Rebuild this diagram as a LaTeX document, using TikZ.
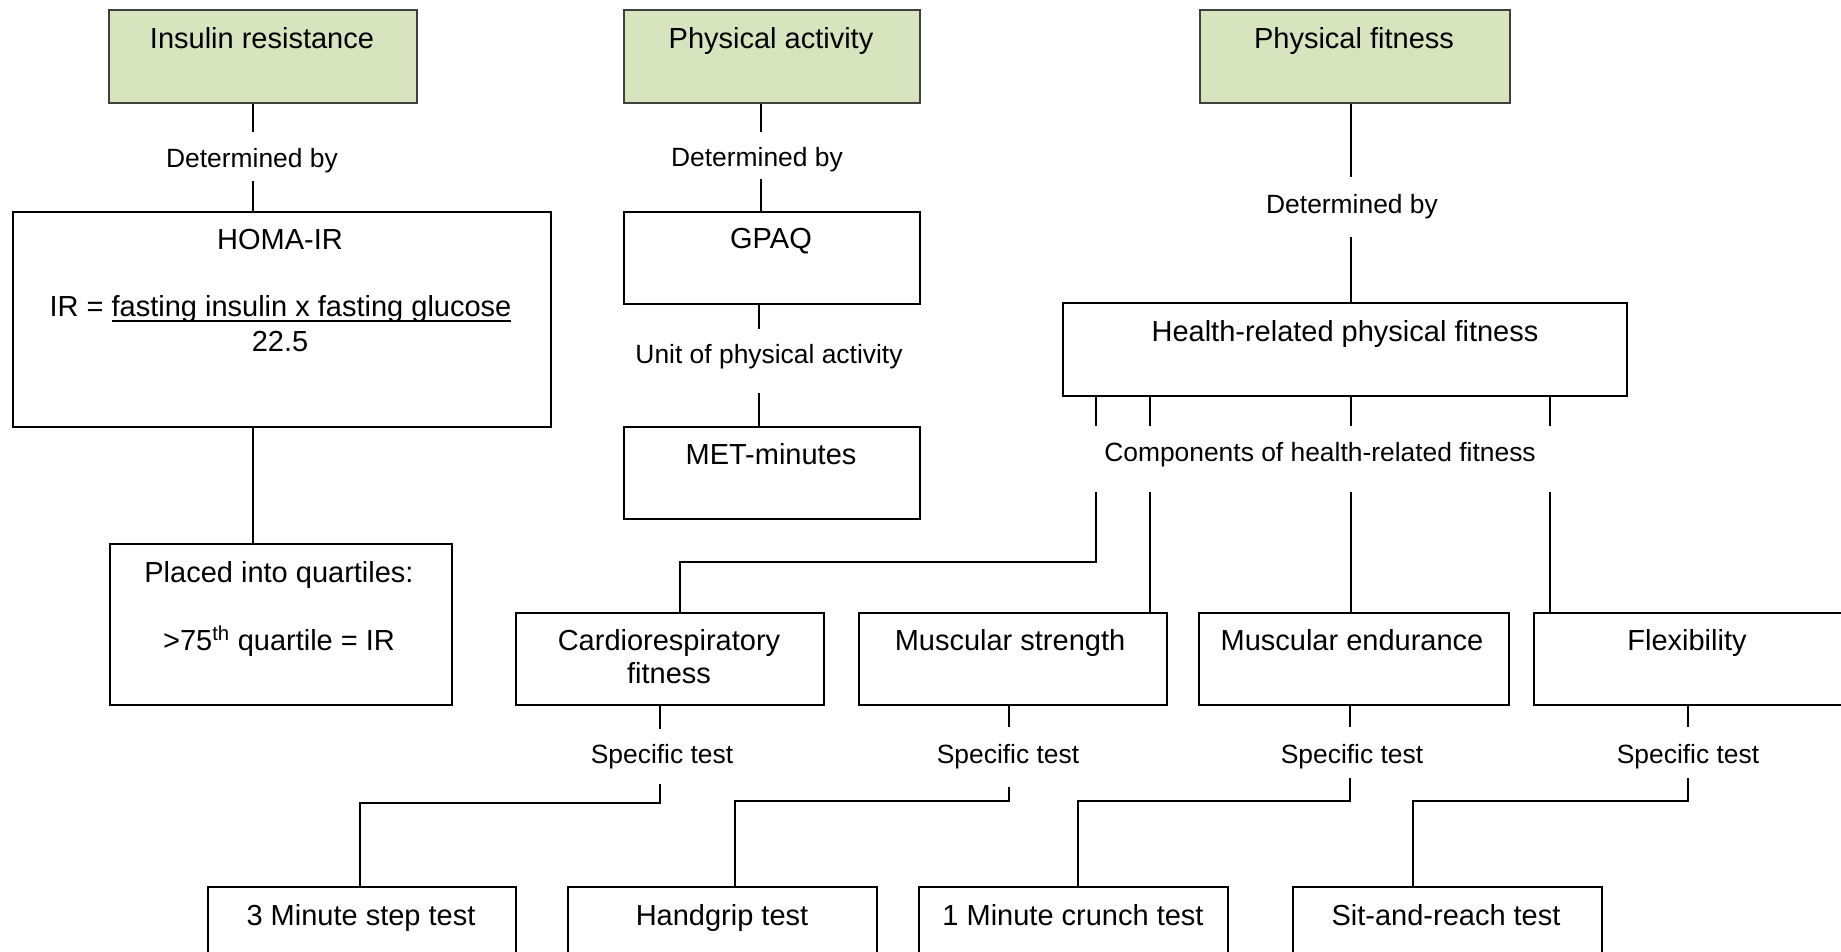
\documentclass[tikz,border=0pt]{standalone}
\usepackage{fontspec}
\setmainfont{Liberation Sans}
\newcommand\myul[1]{\setbox0\hbox{#1}\rlap{\vrule height -4.2pt depth 6.2pt width \wd0}\box0}
\definecolor{boxgreen}{HTML}{D7E4BD}
\tikzset{
  boxst/.style={draw=black, line width=2.1pt, inner sep=0pt, anchor=north west},
  greenst/.style={draw=black!75, fill=boxgreen, line width=1.8pt, inner sep=0pt, anchor=north west},
  connst/.style={draw=black, line width=1.4pt},
  ttlst/.style={font=\fontsize{29}{33}\selectfont, anchor=base, inner sep=0pt},
  lblst/.style={font=\fontsize{26.4}{30}\selectfont, anchor=base, inner xsep=2pt, inner ysep=0pt}
}
\begin{document}
\begin{tikzpicture}[x=1pt,y=-1pt]
\fill[white] (0,0) rectangle (1841,951);
\useasboundingbox (0,0) rectangle (1841,951);

% ---------- boxes ----------
\node[greenst, minimum width=308pt, minimum height=93pt] (ir) at (108,9) {};
\node[greenst, minimum width=296pt, minimum height=93pt] (pa) at (623,9) {};
\node[greenst, minimum width=310pt, minimum height=93pt] (pf) at (1199,9) {};
\node[boxst, minimum width=538pt, minimum height=215pt] (homa) at (12,211) {};
\node[boxst, minimum width=296pt, minimum height=92pt] (gpaq) at (623,211) {};
\node[boxst, minimum width=296pt, minimum height=92pt] (met) at (623,426) {};
\node[boxst, minimum width=564pt, minimum height=93pt] (hr) at (1062,302) {};
\node[boxst, minimum width=342pt, minimum height=161pt] (placed) at (109,543) {};
\node[boxst, minimum width=308pt, minimum height=92pt] (cardio) at (515,612) {};
\node[boxst, minimum width=308pt, minimum height=92pt] (ms) at (858,612) {};
\node[boxst, minimum width=310pt, minimum height=92pt] (me) at (1198,612) {};
\node[boxst, minimum width=308pt, minimum height=92pt] (flex) at (1533,612) {};
\node[boxst, minimum width=308pt, minimum height=92pt] (step) at (207,886) {};
\node[boxst, minimum width=309pt, minimum height=92pt] (grip) at (567,886) {};
\node[boxst, minimum width=309pt, minimum height=92pt] (crunch) at (918,886) {};
\node[boxst, minimum width=309pt, minimum height=92pt] (sit) at (1292,886) {};

% ---------- box texts ----------
\node[ttlst] (irT) at (262,48) {Insulin resistance};
\node[ttlst] (paT) at (771,48) {Physical activity};
\node[ttlst] (pfT) at (1354,48) {Physical fitness};
\node[ttlst] (homaT) at (280,249) {HOMA-IR};
\node[ttlst] (homaF) at (280.5,316) {IR = \myul{fasting insulin x fasting glucose}};
\node[ttlst] (homaD) at (280,351) {22.5};
\node[ttlst] (gpaqT) at (771,248) {GPAQ};
\node[ttlst] (metT) at (771,464) {MET-minutes};
\node[ttlst] (hrT) at (1345,341) {Health-related physical fitness};
\node[ttlst] (plT1) at (279,582) {Placed into quartiles:};
\node[ttlst] (plT2) at (279,650) {>75\textsuperscript{th} quartile = IR};
\node[ttlst] (caT1) at (669,650) {Cardiorespiratory};
\node[ttlst] (caT2) at (669,683) {fitness};
\node[ttlst] (msT) at (1010,650) {Muscular strength};
\node[ttlst] (meT) at (1352,650) {Muscular endurance};
\node[ttlst] (flT) at (1687,650) {Flexibility};
\node[ttlst] (stT) at (361,925) {3 Minute step test};
\node[ttlst] (grT) at (722,925) {Handgrip test};
\node[ttlst] (crT) at (1073,925) {1 Minute crunch test};
\node[ttlst] (siT) at (1446,925) {Sit-and-reach test};

% ---------- connector labels ----------
\node[lblst, text height=35pt, text depth=14pt] (d1) at (252,167) {Determined by};
\node[lblst, text height=34pt, text depth=13pt] (d2) at (757,166) {Determined by};
\node[lblst, text height=36pt, text depth=24pt] (d3) at (1352,213) {Determined by};
\node[lblst, text height=34pt, text depth=30pt] (u1) at (769,363) {Unit of physical activity};
\node[lblst, text height=35pt, text depth=31pt] (c1) at (1320,461) {Components of health-related fitness};
\node[lblst, text height=34pt, text depth=21pt] (s1) at (662,763) {Specific test};
\node[lblst, text height=36pt, text depth=24pt] (s2) at (1008,763) {Specific test};
\node[lblst, text height=36pt, text depth=15pt] (s3) at (1352,763) {Specific test};
\node[lblst, text height=36pt, text depth=15pt] (s4) at (1688,763) {Specific test};

% ---------- connector columns ----------
\coordinate (xa) at (253,0);
\coordinate (xb) at (761,0);
\coordinate (xb2) at (759,0);
\coordinate (xc) at (1351,0);
\coordinate (xk1) at (1096,0);
\coordinate (xk2) at (1150,0);
\coordinate (xk3) at (1351,0);
\coordinate (xk4) at (1550,0);
\coordinate (xcf) at (680,0);
\coordinate (xs1) at (660,0);
\coordinate (xs2) at (1009,0);
\coordinate (xs3) at (1350,0);
\coordinate (xs4) at (1688,0);
\coordinate (xt1) at (360,0);
\coordinate (xt2) at (735,0);
\coordinate (xt3) at (1078,0);
\coordinate (xt4) at (1413,0);
\coordinate (yk) at (0,562);
\coordinate (ys1) at (0,803);
\coordinate (ys2) at (0,801);

% ---------- connectors ----------
\draw[connst] (ir.south -| xa) -- (d1.north -| xa);
\draw[connst] (d1.south -| xa) -- (homa.north -| xa);
\draw[connst] (homa.south -| xa) -- (placed.north -| xa);

\draw[connst] (pa.south -| xb) -- (d2.north -| xb);
\draw[connst] (d2.south -| xb) -- (gpaq.north -| xb);
\draw[connst] (gpaq.south -| xb2) -- (u1.north -| xb2);
\draw[connst] (u1.south -| xb2) -- (met.north -| xb2);

\draw[connst] (pf.south -| xc) -- (d3.north -| xc);
\draw[connst] (d3.south -| xc) -- (hr.north -| xc);

\foreach \k in {xk1,xk2,xk3,xk4}
  \draw[connst] (hr.south -| \k) -- (c1.north -| \k);

\draw[connst] (c1.south -| xk1) |- (yk -| xcf) -- (cardio.north -| xcf);
\draw[connst] (c1.south -| xk2) -- (ms.north -| xk2);
\draw[connst] (c1.south -| xk3) -- (me.north -| xk3);
\draw[connst] (c1.south -| xk4) -- (flex.north -| xk4);

\draw[connst] (cardio.south -| xs1) -- (s1.north -| xs1);
\draw[connst] (s1.south -| xs1) |- (ys1 -| xt1) -- (step.north -| xt1);
\draw[connst] (ms.south -| xs2) -- (s2.north -| xs2);
\draw[connst] (s2.south -| xs2) |- (ys2 -| xt2) -- (grip.north -| xt2);
\draw[connst] (me.south -| xs3) -- (s3.north -| xs3);
\draw[connst] (s3.south -| xs3) |- (ys2 -| xt3) -- (crunch.north -| xt3);
\draw[connst] (flex.south -| xs4) -- (s4.north -| xs4);
\draw[connst] (s4.south -| xs4) |- (ys2 -| xt4) -- (sit.north -| xt4);
\end{tikzpicture}
\end{document}
